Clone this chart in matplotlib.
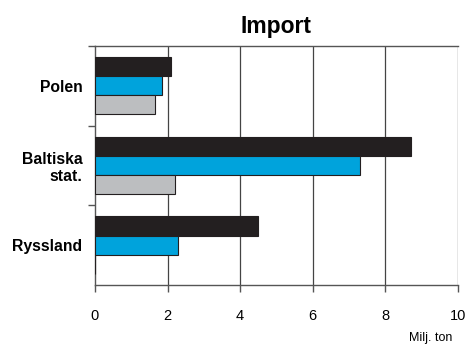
import numpy as np
import matplotlib.pyplot as plt

# Import per region, million tonnes (three series per region)
categories = ['Polen', 'Baltiska\nstat.', 'Ryssland']
series_black = [2.1, 8.7, 4.5]
series_blue = [1.85, 7.3, 2.3]
series_gray = [1.65, 2.2, 0.0]
xticks = [0, 2, 4, 6, 8, 10]

plt.rcParams['font.family'] = ['Liberation Sans', 'DejaVu Sans']

fig = plt.figure(figsize=(4.7, 3.45), dpi=100)
ax = fig.add_axes([0.202, 0.174, 0.772, 0.693])

y = np.arange(len(categories))
h = 0.24
edge = '#231f20'
ax.barh(y - h, series_black, height=h, color='#231f20', edgecolor=edge, linewidth=0.8, zorder=3)
ax.barh(y, series_blue, height=h, color='#00a3dc', edgecolor=edge, linewidth=0.8, zorder=3)
ax.barh(y + h, series_gray, height=h, color='#bcbec0', edgecolor=edge, linewidth=0.8, zorder=3)

ax.set_xlim(0, 10)
ax.set_ylim(2.5, -0.5)

ax.set_xticks(xticks)
ax.set_xticklabels([str(t) for t in xticks], fontsize=10.5)
ax.tick_params(axis='x', direction='out', length=5, width=1, color='#555555', pad=12)

ax.set_yticks(y)
ax.set_yticklabels(categories, fontsize=11.3, fontweight='bold', ha='right')
ax.tick_params(axis='y', which='major', length=0, pad=9)
ax.set_yticks([-0.5, 0.5, 1.5], minor=True)
ax.tick_params(axis='y', which='minor', direction='out', length=5, width=1, color='#555555')

for t in xticks[1:]:
    ax.axvline(t, color='#444444', linewidth=0.9, zorder=1)

for side in ['left', 'bottom', 'top']:
    ax.spines[side].set_color('#555555')
    ax.spines[side].set_linewidth(1)
ax.spines['right'].set_visible(False)

ax.set_title('Import', fontsize=16.5, fontweight='bold', pad=9)
fig.text(0.962, 0.004, 'Milj. ton', fontsize=9, ha='right', va='bottom')

fig.savefig('out.png', dpi=100)
